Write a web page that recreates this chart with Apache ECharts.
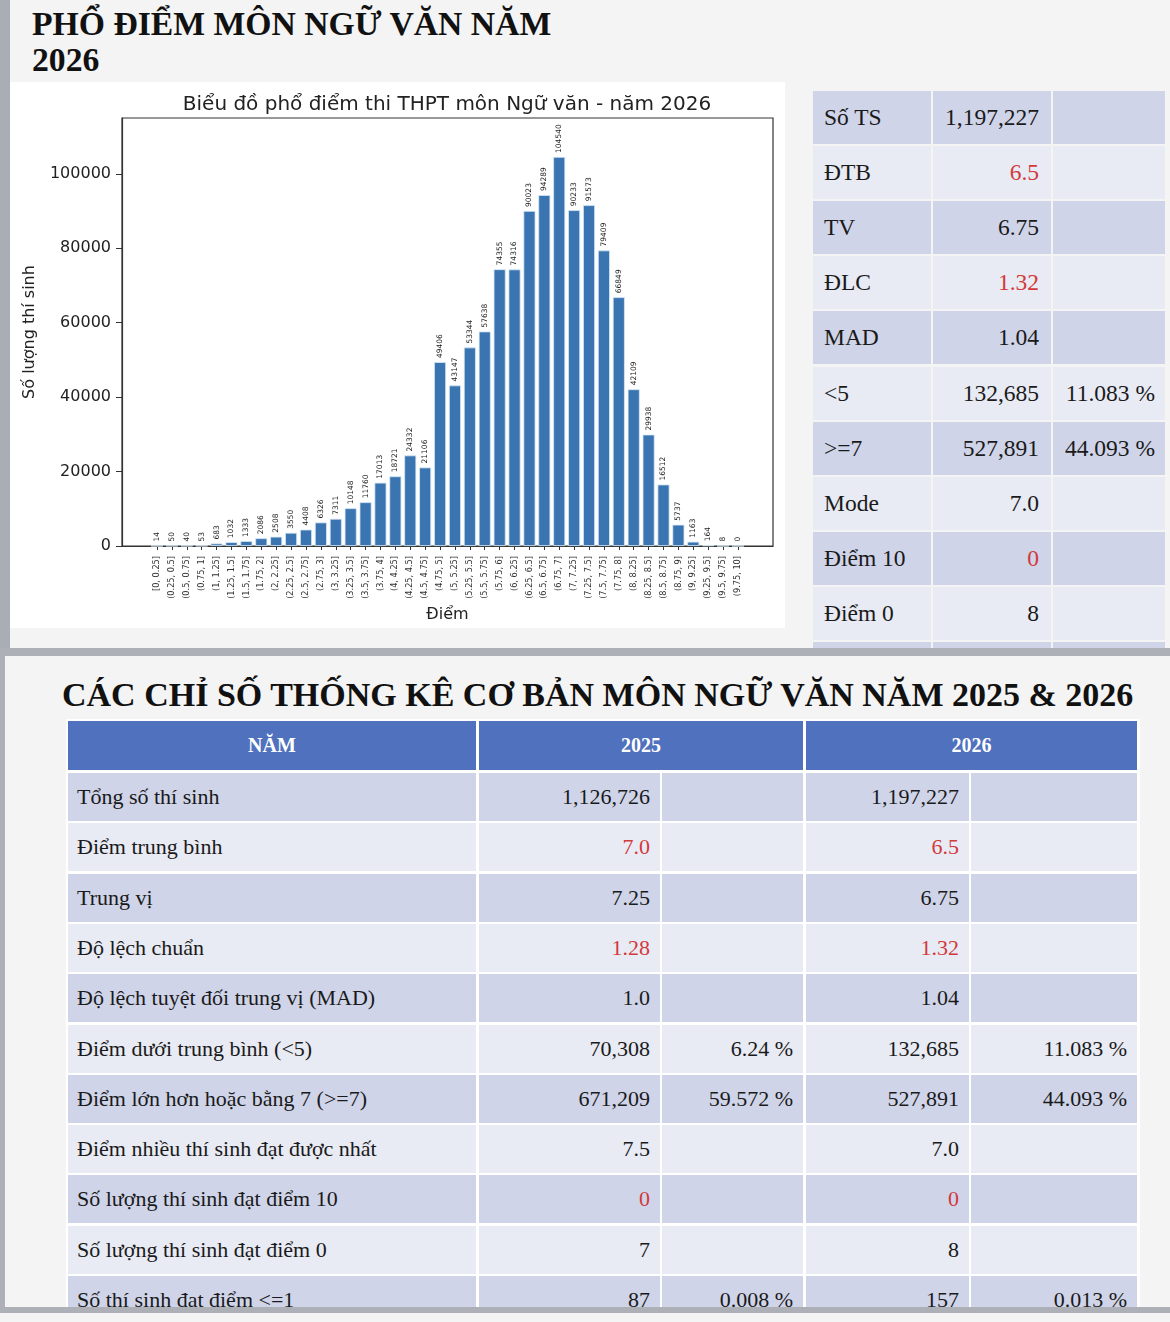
<!DOCTYPE html>
<html>
<head>
<meta charset="utf-8">
<script src="https://cdn.jsdelivr.net/npm/echarts@6/dist/echarts.min.js"></script>
<style>
    body { margin:0; }
    #page { position:relative; width:1170px; height:1322px; background:#f4f4f4; overflow:hidden; font-family:"Liberation Serif","Times New Roman",serif; color:#1a1a1a; }
    .abs { position:absolute; }
    .heading { font-weight:bold; font-size:33.7px; line-height:36px; white-space:nowrap; color:#111; }
    .cell { position:absolute; display:flex; align-items:center; white-space:nowrap; box-sizing:border-box; }
    .red { color:#d23a3a; }
</style>
</head>
<body>
<div id="page">
    <div class="abs" style="left:0;top:0;width:10px;height:650px;background:#a9adb5;"></div>
    <div class="abs heading" style="left:32px;top:6px;">PHỔ ĐIỂM MÔN NGỮ VĂN NĂM<br>2026</div>
    <div id="chart" class="abs" style="left:10px;top:82px;width:775px;height:546px;background:#fff;"></div>
    <div id="sideTable" class="abs" style="left:813px;top:90px;width:352px;height:558px;overflow:hidden;"></div>
    <div class="abs" style="left:0;top:648px;width:1170px;height:8px;background:#adb0b7;"></div>
    <div class="abs" style="left:0;top:656px;width:5px;height:652px;background:#adb0b7;"></div>
    <div id="title2" class="abs heading" style="left:62px;top:675px;width:1066px;text-align:center;line-height:40px;font-size:34px;">CÁC CHỈ SỐ THỐNG KÊ CƠ BẢN MÔN NGỮ VĂN NĂM 2025 &amp; 2026</div>
    <div id="statTable" class="abs" style="left:66px;top:719px;width:1074px;height:588px;overflow:hidden;background:#fff;"></div>
    <div class="abs" style="left:0;top:1307px;width:1170px;height:6px;background:#adb0b7;"></div>
</div>
<script>
// score bins of the histogram
var scoreBins = [
    '[0, 0.25]','(0.25, 0.5]','(0.5, 0.75]','(0.75, 1]','(1, 1.25]','(1.25, 1.5]','(1.5, 1.75]','(1.75, 2]',
    '(2, 2.25]','(2.25, 2.5]','(2.5, 2.75]','(2.75, 3]','(3, 3.25]','(3.25, 3.5]','(3.5, 3.75]','(3.75, 4]',
    '(4, 4.25]','(4.25, 4.5]','(4.5, 4.75]','(4.75, 5]','(5, 5.25]','(5.25, 5.5]','(5.5, 5.75]','(5.75, 6]',
    '(6, 6.25]','(6.25, 6.5]','(6.5, 6.75]','(6.75, 7]','(7, 7.25]','(7.25, 7.5]','(7.5, 7.75]','(7.75, 8]',
    '(8, 8.25]','(8.25, 8.5]','(8.5, 8.75]','(8.75, 9]','(9, 9.25]','(9.25, 9.5]','(9.5, 9.75]','(9.75, 10]'
];
var scoreCounts = [
    14, 50, 40, 53, 683, 1032, 1333, 2086,
    2508, 3550, 4408, 6326, 7311, 10148, 11760, 17013,
    18721, 24332, 21106, 49406, 43147, 53344, 57638, 74355,
    74316, 90023, 94289, 104540, 90233, 91573, 79409, 66849,
    42109, 29938, 16512, 5737, 1163, 164, 8, 0
];
var yTicks = [0, 20000, 40000, 60000, 80000, 100000];

// side table (2026)
var sideLabels = ['Số TS','ĐTB','TV','ĐLC','MAD','<5','>=7','Mode','Điểm 10','Điểm 0',''];
var sideValues = ['1,197,227','6.5','6.75','1.32','1.04','132,685','527,891','7.0','0','8',''];
var sidePct = ['','','','','','11.083 %','44.093 %','','','',''];

// comparison table 2025 & 2026
var statHeader = ['NĂM','2025','2026'];
var statLabels = [
    'Tổng số thí sinh','Điểm trung bình','Trung vị','Độ lệch chuẩn','Độ lệch tuyệt đối trung vị (MAD)',
    'Điểm dưới trung bình (<5)','Điểm lớn hơn hoặc bằng 7 (>=7)','Điểm nhiều thí sinh đạt được nhất',
    'Số lượng thí sinh đạt điểm 10','Số lượng thí sinh đạt điểm 0','Số thí sinh đạt điểm <=1'
];
var values2025 = ['1,126,726','7.0','7.25','1.28','1.0','70,308','671,209','7.5','0','7','87'];
var pct2025 = ['','','','','','6.24 %','59.572 %','','','','0.008 %'];
var values2026 = ['1,197,227','6.5','6.75','1.32','1.04','132,685','527,891','7.0','0','8','157'];
var pct2026 = ['','','','','','11.083 %','44.093 %','','','','0.013 %'];
var redRows = [1, 3, 8];

var darkRow = '#cfd4e9';
var lightRow = '#e8eaf4';

function addCell(parent, left, top, width, height, bg, text, align, pad, extra) {
    var d = document.createElement('div');
    d.className = 'cell';
    d.style.left = left + 'px';
    d.style.top = top + 'px';
    d.style.width = width + 'px';
    d.style.height = height + 'px';
    d.style.background = bg;
    d.style.justifyContent = align == 'right' ? 'flex-end' : (align == 'center' ? 'center' : 'flex-start');
    if (align == 'right') d.style.paddingRight = pad + 'px'; else d.style.paddingLeft = pad + 'px';
    d.textContent = text;
    if (extra) d.className += ' ' + extra;
    parent.appendChild(d);
    return d;
}

function buildSideTable() {
    var box = document.getElementById('sideTable');
    var pitch = 55.1;
    for (var i = 0; i < sideLabels.length; i++) {
        var top = 1 + i * pitch;
        var bg = i % 2 == 0 ? darkRow : lightRow;
        var red = redRows.indexOf(i) >= 0 ? 'red' : '';
        var c1 = addCell(box, 0, top, 118, pitch - 2, bg, sideLabels[i], 'left', 11);
        var c2 = addCell(box, 120, top, 118, pitch - 2, bg, sideValues[i], 'right', 12, red);
        var c3 = addCell(box, 240, top, 112, pitch - 2, bg, sidePct[i], 'right', 10);
        c1.style.fontSize = c2.style.fontSize = c3.style.fontSize = '23.5px';
    }
}

function buildStatTable() {
    var box = document.getElementById('statTable');
    // header
    var h = [[2, 408], [413, 324], [740, 331]];
    for (var k = 0; k < 3; k++) {
        var c = addCell(box, h[k][0], 2, h[k][1], 49, '#4f71be', statHeader[k], 'center', 0);
        c.style.color = '#fff';
        c.style.fontWeight = 'bold';
        c.style.fontSize = '20px';
    }
    var cols = [[2, 408], [413, 181], [596, 141], [740, 163], [905, 166]];
    var pitch = 50.3;
    for (var i = 0; i < statLabels.length; i++) {
        var top = 54 + i * pitch;
        var bg = i % 2 == 0 ? darkRow : lightRow;
        var red = redRows.indexOf(i) >= 0 ? 'red' : '';
        var texts = [statLabels[i], values2025[i], pct2025[i], values2026[i], pct2026[i]];
        for (var j = 0; j < 5; j++) {
            var cell = addCell(box, cols[j][0], top, cols[j][1], pitch - 2.3, bg, texts[j],
                j == 0 ? 'left' : 'right', j == 0 ? 9 : 10, (j == 1 || j == 3) ? red : '');
            cell.style.fontSize = '22px';
        }
    }
}

buildSideTable();
buildStatTable();

var tickIdx = [];
for (var t = 0; t < scoreBins.length; t++) tickIdx.push(t);

var barData = [];
for (var b = 0; b < scoreCounts.length; b++) barData.push([b, scoreCounts[b]]);

var myChart = echarts.init(document.getElementById('chart'));
var option = {
    animation: false,
    title: {
        text: 'Biểu đồ phổ điểm thi THPT môn Ngữ văn - năm 2026',
        left: 432, top: 8, textAlign: 'center',
        textStyle: { fontFamily: 'DejaVu Sans', fontSize: 20, fontWeight: 'normal', color: '#222' }
    },
    grid: {
        left: 112, top: 36, width: 651, height: 428, outerBoundsMode: 'none',
        show: true, borderColor: '#333', borderWidth: 1.2, backgroundColor: '#fff'
    },
    xAxis: {
        type: 'value', min: -2.35, max: 41.35,
        name: 'Điểm', nameLocation: 'middle', nameGap: 56,
        nameTextStyle: { fontFamily: 'DejaVu Sans', fontSize: 16, color: '#222' },
        axisLine: { show: true, onZero: false, lineStyle: { color: '#333', width: 1.2 } },
        splitLine: { show: false },
        axisTick: { customValues: tickIdx, length: 4, lineStyle: { color: '#333' } },
        axisLabel: {
            customValues: tickIdx, rotate: 90, margin: 10,
            fontFamily: 'DejaVu Sans', fontSize: 8.2, color: '#333',
            formatter: function (v) { return scoreBins[Math.round(v)]; }
        }
    },
    yAxis: {
        type: 'value', min: 0, max: 115000,
        name: 'Số lượng thí sinh', nameLocation: 'middle', nameGap: 84,
        nameTextStyle: { fontFamily: 'DejaVu Sans', fontSize: 16, color: '#222' },
        axisLine: { show: true, onZero: false, lineStyle: { color: '#333', width: 1.2 } },
        splitLine: { show: false },
        axisTick: { customValues: yTicks, length: 6, lineStyle: { color: '#333' } },
        axisLabel: {
            customValues: yTicks, margin: 11, fontFamily: 'DejaVu Sans', fontSize: 16, color: '#222',
            formatter: function (v) { return String(v); }
        }
    },
    series: [{
        type: 'bar',
        data: barData,
        barWidth: 12,
        itemStyle: { color: '#3a74b1', borderColor: '#d5e9f6', borderWidth: 0.8 },
        label: {
            show: true, position: 'top', rotate: 90, align: 'left', verticalAlign: 'middle', distance: 4,
            fontFamily: 'DejaVu Sans', fontSize: 7.5, color: '#222',
            formatter: function (p) { return p.value[1]; }
        }
    }]
};
myChart.setOption(option);
</script>
</body>
</html>
